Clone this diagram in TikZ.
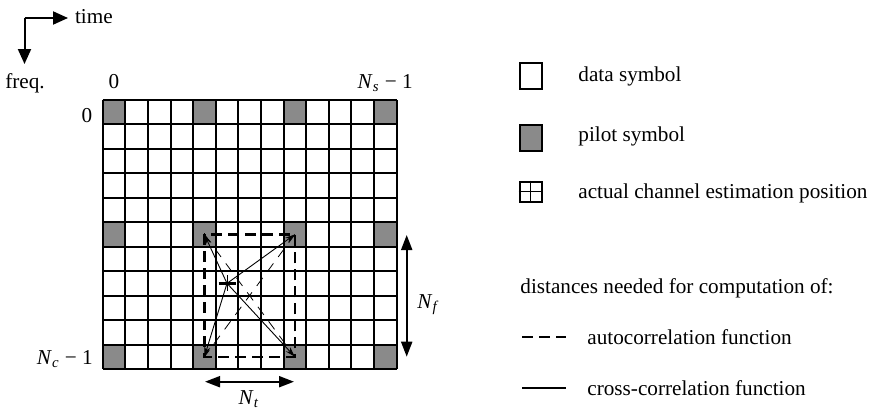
\documentclass[tikz,border=0pt]{standalone}
\usepackage{fontspec}
\setmainfont{Liberation Serif}
\usepackage{tikz}
\usetikzlibrary{arrows.meta,positioning}

\definecolor{pilotgray}{RGB}{138,138,138}
\newcommand{\idx}[2]{\textit{#1}\textsubscript{\textit{#2}}}

\begin{document}
\begin{tikzpicture}[
  x=0.5pt, y=-0.5pt,
  font=\fontsize{10.6}{12.5}\selectfont,
  gridline/.style={line width=1pt},
  pilot/.style={fill=pilotgray},
  autocorr/.style={dash pattern=on 5.5pt off 3pt, line width=1.1pt},
  autodiag/.style={dash pattern=on 5pt off 4pt, line width=0.4pt},
  crosscorr/.style={line width=0.45pt, -{Stealth[length=5pt,width=3pt]}},
  bigarrow/.style={line width=1pt, -{Triangle[length=7.5pt,width=6.5pt]}},
  spanarrow/.style={line width=1pt, {Triangle[length=7.5pt,width=5.5pt]}-{Triangle[length=7.5pt,width=5.5pt]}},
  legbox/.style={draw, line width=1pt, minimum width=11pt, minimum height=13pt, inner sep=0pt},
  legtext/.style={anchor=west, inner sep=0pt}
]
\useasboundingbox (0,0) rectangle (872,412);

% time / frequency axes
\coordinate (corner) at (24.5,18);
\node[anchor=west] (time) at (68,17) {time};
\coordinate (freqtip) at (24.5,64);
\node (freq) at (25,83) {freq.};
\draw[bigarrow] (corner) -- (corner -| time.west);
\draw[bigarrow] (corner) -- (freqtip);

% time-frequency grid
\begin{scope}[shift={(102.7,100)}, x=11.3pt, y=-12.225pt]
  \foreach \c in {0,4,8,12}
    \foreach \r in {0,5,10}
      \fill[pilot] (\c,\r) rectangle ++(1,1);
  \foreach \c in {0,...,13}
    \draw[gridline] (\c,0) -- (\c,11);
  \foreach \r in {0,...,11}
    \draw[gridline] (0,\r) -- (13,\r);
  \coordinate (p-tl) at (4.5,5.5);
  \coordinate (p-tr) at (8.5,5.5);
  \coordinate (p-bl) at (4.5,10.5);
  \coordinate (p-br) at (8.5,10.5);
  \coordinate (est) at (5.5,7.5);
  \node[anchor=base, inner sep=0pt] (col-first) at (0.5,-0.48) {0};
  \node[anchor=base, inner sep=0pt] (col-last) at (12.5,-0.48) {\idx{N}{s} − 1};
  \node[anchor=base east, inner sep=0pt] (row-first) at (-0.45,0.9) {0};
  \node[anchor=base east, inner sep=0pt] (row-last) at (-0.42,10.8) {\idx{N}{c} − 1};
\end{scope}

% distances between pilots
\draw[autocorr] (p-tl) rectangle (p-br);
\draw[autodiag] (p-tl) -- (p-br) (p-tr) -- (p-bl);
\foreach \p in {p-tl,p-tr,p-bl,p-br}
  \draw[crosscorr] (est) -- (\p);
\draw[line width=1.4pt] (est) ++(-8.5,0) -- ++(17,0);
\draw[line width=0.5pt] (est) ++(0,-8) -- ++(0,16);

% spacing of the pilots
\coordinate (nf-top) at (406.7,235);
\coordinate (nf-bot) at (406.7,356.7);
\draw[spanarrow] (nf-top) -- (nf-bot);
\node[anchor=base west, inner sep=0pt] (nf) at (417,308) {\idx{N}{f}};
\coordinate (nt-left) at (205,381.7);
\coordinate (nt-right) at (294,381.7);
\draw[spanarrow] (nt-left) -- (nt-right);
\node[anchor=base, inner sep=0pt] (nt) at (249,404) {\idx{N}{t}};

% legend
\node[legbox] (leg-data) at (530.5,76) {};
\node[legbox, fill=pilotgray] (leg-pilot) at (530.5,137.5) {};
\node[legbox, minimum height=10pt] (leg-est) at (530.5,191.7) {};
\draw[line width=0.5pt] (leg-est.north) -- (leg-est.south) (leg-est.west) -- (leg-est.east);
\node[legtext] (txt-data) at (578,76) {data symbol};
\node[legtext] (txt-pilot) at (578,136) {pilot symbol};
\node[legtext] (txt-est) at (578,193) {actual channel estimation position};
\node[legtext] (txt-dist) at (520,288) {distances needed for computation of:};
\coordinate (auto-a) at (522,337);
\coordinate (auto-b) at (566,337);
\draw[autocorr] (auto-a) -- (auto-b);
\node[legtext] (txt-auto) at (587,337) {autocorrelation function};
\coordinate (cross-a) at (522,388);
\coordinate (cross-b) at (566,388);
\draw[line width=1pt] (cross-a) -- (cross-b);
\node[legtext] (txt-cross) at (587,388) {cross-correlation function};

\end{tikzpicture}
\end{document}
